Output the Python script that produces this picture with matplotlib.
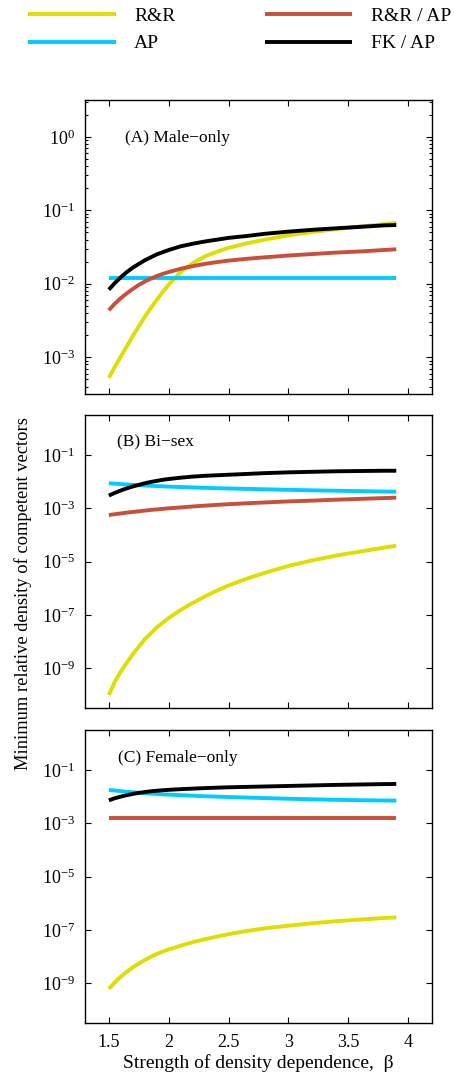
import numpy as np
import matplotlib
matplotlib.use("Agg")
import matplotlib.pyplot as plt
from matplotlib.ticker import LogLocator, NullLocator, FixedLocator

plt.rcParams['font.family'] = ['Liberation Serif', 'DejaVu Serif']
plt.rcParams['mathtext.fontset'] = 'stix'

# strength of density dependence
beta = [1.5, 1.55, 1.6, 1.65, 1.7, 1.75, 1.8, 1.85, 1.9, 1.95, 2.0, 2.1,
        2.2, 2.3, 2.4, 2.5, 2.65, 2.8, 3.0, 3.2, 3.4, 3.6, 3.8, 3.9]

# log10 of minimum relative density, panel (A) male-only
a_rr = [-3.28, -3.13, -2.99, -2.85, -2.71, -2.58, -2.45, -2.33, -2.22, -2.11, -2.01, -1.84,
        -1.72, -1.63, -1.565, -1.51, -1.45, -1.40, -1.34, -1.295, -1.255, -1.22, -1.19, -1.17]
a_ap = [-1.92] * 24
a_rr_ap = [-2.36, -2.27, -2.195, -2.13, -2.07, -2.015, -1.97, -1.93, -1.895, -1.865, -1.84, -1.795,
           -1.76, -1.73, -1.705, -1.685, -1.66, -1.64, -1.615, -1.595, -1.575, -1.56, -1.54, -1.53]
a_fk_ap = [-2.08, -1.99, -1.91, -1.84, -1.78, -1.73, -1.68, -1.64, -1.60, -1.57, -1.54, -1.49,
           -1.455, -1.425, -1.40, -1.375, -1.35, -1.32, -1.29, -1.265, -1.245, -1.225, -1.205, -1.20]

# panel (B) bi-sex
b_rr = [-10.0, -9.5, -9.12, -8.79, -8.47, -8.19, -7.91, -7.69, -7.47, -7.29, -7.11, -6.81,
        -6.55, -6.31, -6.09, -5.89, -5.64, -5.42, -5.16, -4.95, -4.77, -4.62, -4.47, -4.40]
b_ap = [-2.06, -2.075, -2.09, -2.105, -2.12, -2.13, -2.145, -2.155, -2.165, -2.175, -2.185, -2.20,
        -2.215, -2.23, -2.245, -2.255, -2.27, -2.285, -2.305, -2.325, -2.34, -2.355, -2.37, -2.375]
b_rr_ap = [-3.25, -3.22, -3.19, -3.16, -3.135, -3.11, -3.085, -3.06, -3.04, -3.02, -3.0, -2.965,
           -2.93, -2.90, -2.87, -2.845, -2.81, -2.78, -2.74, -2.71, -2.675, -2.645, -2.615, -2.60]
b_fk_ap = [-2.52, -2.42, -2.33, -2.25, -2.18, -2.12, -2.06, -2.01, -1.97, -1.93, -1.90, -1.85,
           -1.81, -1.78, -1.76, -1.74, -1.71, -1.68, -1.65, -1.63, -1.61, -1.60, -1.59, -1.59]

# panel (C) female-only
c_rr = [-9.21, -8.97, -8.75, -8.57, -8.40, -8.26, -8.13, -8.01, -7.90, -7.81, -7.73, -7.59,
        -7.46, -7.35, -7.25, -7.16, -7.04, -6.94, -6.84, -6.75, -6.67, -6.61, -6.55, -6.53]
c_ap = [-1.75, -1.77, -1.795, -1.82, -1.835, -1.855, -1.87, -1.885, -1.90, -1.915, -1.925, -1.945,
        -1.965, -1.985, -2.0, -2.015, -2.035, -2.055, -2.08, -2.10, -2.12, -2.135, -2.145, -2.15]
c_rr_ap = [-2.80] * 24
c_fk_ap = [-2.14, -2.06, -2.0, -1.945, -1.90, -1.86, -1.83, -1.80, -1.78, -1.76, -1.745, -1.72,
           -1.70, -1.68, -1.665, -1.65, -1.635, -1.62, -1.60, -1.58, -1.56, -1.545, -1.53, -1.525]

labels = ['R&R', 'AP', 'R&R / AP', 'FK / AP']
colors = ['#dede00', '#00ccff', '#c8503a', 'black']
panel_titles = ['(A) Male\u2212only', '(B) Bi\u2212sex', '(C) Female\u2212only']
panels = [
    [a_rr, a_ap, a_rr_ap, a_fk_ap],
    [b_rr, b_ap, b_rr_ap, b_fk_ap],
    [c_rr, c_ap, c_rr_ap, c_fk_ap],
]

fig = plt.figure(figsize=(4.54, 10.76), dpi=100)
boxes = [
    [0.187, 0.6338, 0.765, 0.2732],
    [0.187, 0.3417, 0.765, 0.2726],
    [0.187, 0.0490, 0.765, 0.2726],
]
title_pos = [(0.115, 0.87), (0.092, 0.905), (0.095, 0.905)]

handles = []
for i, box in enumerate(boxes):
    ax = fig.add_axes(box)
    for series, col, lab in zip(panels[i], colors, labels):
        h, = ax.plot(beta, 10.0 ** np.array(series), color=col, lw=2.8,
                     solid_capstyle='butt', solid_joinstyle='round', label=lab)
        if i == 0:
            handles.append(h)
    ax.set_yscale('log')
    ax.set_xlim(1.3, 4.2)
    ax.set_xticks([1.5, 2, 2.5, 3, 3.5, 4])
    if i == 0:
        ax.set_ylim(10 ** -3.5, 10 ** 0.5)
        ax.yaxis.set_major_locator(FixedLocator([1e-3, 1e-2, 1e-1, 1e0]))
        ax.yaxis.set_minor_locator(LogLocator(base=10, subs=np.arange(2, 10)))
    else:
        ax.set_ylim(10 ** -10.5, 10 ** 0.5)
        ax.yaxis.set_major_locator(FixedLocator([1e-9, 1e-7, 1e-5, 1e-3, 1e-1]))
        ax.yaxis.set_minor_locator(NullLocator())
    ax.tick_params(which='both', direction='in', top=True, right=True,
                   labelsize=13, width=0.8)
    ax.tick_params(which='major', length=4)
    ax.tick_params(which='minor', length=2)
    ax.tick_params(axis='y', which='major', pad=7)
    ax.tick_params(axis='x', which='major', pad=8)
    if i < 2:
        ax.set_xticklabels([])
    else:
        ax.set_xticklabels(['1.5', '2', '2.5', '3', '3.5', '4'])
        ax.set_xlabel('Strength of density dependence,  \u03b2', fontsize=14, labelpad=2)
    for sp in ax.spines.values():
        sp.set_linewidth(1.0)
    ax.text(title_pos[i][0], title_pos[i][1], panel_titles[i], transform=ax.transAxes,
            fontsize=12.5, va='center', ha='left')

fig.text(0.05, 0.448, 'Minimum relative density of competent vectors',
         rotation=90, fontsize=13.3, ha='center', va='center')

fig.legend(handles=handles, labels=labels, ncol=2, loc='upper left',
           bbox_to_anchor=(0.062, 0.993), frameon=False, fontsize=14,
           handlelength=4.5, handletextpad=0.95, columnspacing=4.6,
           labelspacing=0.5, borderpad=0.0, borderaxespad=0.0)

fig.savefig('out.png', dpi=100)
